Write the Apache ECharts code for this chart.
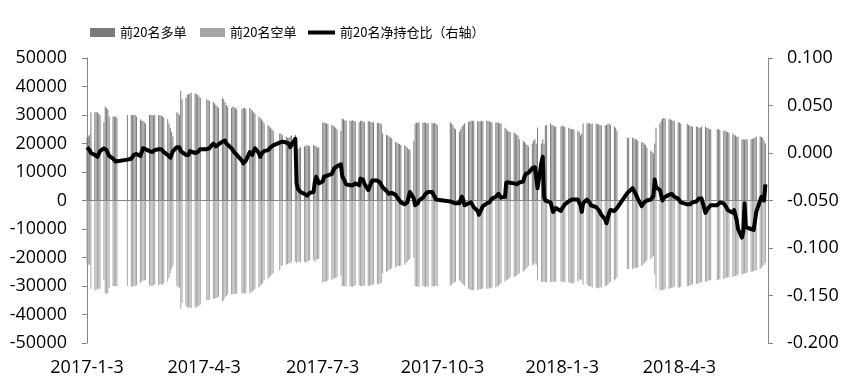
<!DOCTYPE html>
<html><head><meta charset="utf-8">
<script src="https://cdn.jsdelivr.net/npm/echarts@6/dist/echarts.min.js"></script>
<style>html,body{margin:0;padding:0;background:#fff}#c{width:851px;height:390px}</style>
</head><body><div id="c"></div>
<script>
// Trading calendar (categories): 2017-01-03 .. 2018-06-08, weekends and exchange holidays excluded
const startDate = '2017-01-03';
const endDate = '2018-06-08';
const axisEndDate = '2018-06-10';
const holidays = ['2017-01-27','2017-01-30','2017-01-31','2017-02-01','2017-02-02','2017-04-03','2017-04-04','2017-05-01','2017-05-29','2017-05-30','2017-10-02','2017-10-03','2017-10-04','2017-10-05','2017-10-06','2018-01-01','2018-02-15','2018-02-16','2018-02-19','2018-02-20','2018-02-21','2018-04-05','2018-04-06','2018-04-30','2018-05-01'];
const tickDates = ['2017-01-03','2017-04-03','2017-07-03','2017-10-03','2018-01-03','2018-04-03'];

// 前20名多单
const longValues = [
// 2017-01
22000,22500,23000,31000, 31000,31000,31000,30500,30000, 27500,33000,32500,32000,29500, 29500,29500,29500,29000,
// 2017-02
30000, 30000,30000,30000,30000,29500, 28500,28000,28000,27500,27000, 30000,30000,30000,29800,30000, 30000,29800,
// 2017-03
29800,29500,29000, 28500,27000,25500,24000,22500, 31000,30500,30000,38500,35500, 36000,37000,37500,37500,37800, 37500,37500,37000,36500,36000,
// 2017-04
35500,35200,35000, 34500,34000,33500,33000,32500, 36000,35500,34500,33500,33000, 32500,33000,32800,32500,32000,
// 2017-05
32000,32500,32500,32000, 32500,32000,31500,31000,30500, 29500,29000,28500,28000,27000, 26500,26000,25500,25000,24500, 23500,
// 2017-06
23500,23000, 22500,22000,22000,22500,22800, 23000,19000,18000,18500,18700, 19000,19000,19500,19300,19000, 19500,19300,19000,18500,18700,
// 2017-07
27300,27500,27200,27000,26800, 26500,26300,26000,25500,25000, 24500,28800,28500,28200,28000, 28000,28000,28200,28000,27800, 27500,
// 2017-08
28000,28000,27800,27500, 27800,27800,27500,27500,27500, 27300,27200,27000,26800,23500, 23000,22800,22500,22000,21800, 20500,20300,20000,19800,
// 2017-09
19500, 19300,19000,18500,18000,17800, 21000,27000,27300,27300,27500, 27300,27500,27300,27000,27200, 27300,27000,27200,27000,26500,
// 2017-10
27500,27000,26500,25500,25000, 24000,25000,26000,26500,27000, 27500,27800,28000,28000,28000, 27800,27800,
// 2017-11
27800,28000,27800, 28000,28000,27800,27500,27500, 27300,27500,27300,27000,27000, 25500,25000,24500,24200,24000, 23800,23500,23000,22800,
// 2017-12
21500, 21000,20500,20000,19500,19000, 20000,21000,21500,20000,25600, 20000,21500,20000,26300,26500, 27000,26500,26500,26000,26000,
// 2018-01
26000,26300,26000,25800, 25500,25300,25000,25000,25000, 24500,24000,22800,23500,27000, 27000,27300,27000,26800,27000, 27000,26800,26600,
// 2018-02
26500,26300, 26300,26500,26800,27000,26500, 26000,25500,24500, 22000,22000, 22000,21800,21500,
// 2018-03
21500,21000, 20500,20300,20000,19500,18500, 17500,17000,16500,20000,25500, 27000,28000,28800,29000,28800, 28500,28500,28200,28000,28000,
// 2018-04
27500,27300,27000, 26800,26500,26300,26000,26000, 26000,25800,25500,25500,26000, 26000,25500,25500,25000,25000,
// 2018-05
25000,25000,24800, 24500,24500,24200,24000,23800, 23500,23000,22800,22500,22300, 21500,21500,21300,21500,21500, 21500,21600,21800,22000,
// 2018-06
22500, 22500,22300,22000,21000,20000
];

// 前20名空单
const shortValues = [
// 2017-01
-22000,-22500,-22500,-31000, -31500,-31500,-31000,-31000,-31000, -28000,-32500,-32800,-32500,-30500, -30000,-30000,-30200,-30000,
// 2017-02
-30000, -30200,-30200,-30000,-30000,-29800, -29000,-28500,-28200,-28000,-28000, -29800,-30000,-30000,-29800,-29500, -29800,-29500,
// 2017-03
-29500,-29500,-29000, -28500,-27000,-25500,-24000,-23000, -30000,-30500,-30500,-38000,-36000, -37000,-37500,-37500,-37500,-37800, -37500,-37500,-37200,-37000,-36500,
// 2017-04
-35000,-35000,-34800, -34500,-34500,-34200,-34000,-33800, -35500,-35000,-34000,-33500,-33000, -33000,-33000,-32800,-32800,-32500,
// 2017-05
-32500,-32500,-32500,-32500, -32500,-32300,-32000,-31500,-31000, -30500,-30000,-29500,-29000,-28000, -27500,-27000,-26500,-26000,-25500, -24500,
// 2017-06
-23000,-22800, -22500,-22300,-22000,-22000,-21500, -21500,-22000,-21500,-21500,-21700, -21500,-21800,-21500,-21200,-21000, -20800,-21500,-21000,-20500,-20500,
// 2017-07
-28700,-28500,-28500,-28300,-28000, -27800,-27500,-27300,-27000,-26800, -26500,-30000,-30000,-30200,-30000, -30000,-30200,-30300,-30000,-29800, -29800,
// 2017-08
-30000,-30000,-30000,-29800, -30000,-29800,-29800,-29500,-29500, -29500,-29300,-29000,-29000,-25500, -25000,-24800,-24500,-24000,-23800, -23500,-23200,-23000,-23000,
// 2017-09
-22800, -22500,-22000,-21500,-21000,-20500, -20000,-30000,-30200,-30200,-30300, -30000,-30200,-30300,-30000,-30300, -30000,-30200,-30000,-30000,-30000,
// 2017-10
-30000,-29500,-29000,-28800,-28500, -28000,-28500,-29000,-29500,-30000, -31000,-31200,-31500,-31500,-31500, -31300,-31200,
// 2017-11
-31200,-31000,-31000, -31000,-31000,-30800,-30800,-30500, -30500,-30200,-30000,-29500,-29000, -28500,-28000,-27800,-27500,-27000, -26800,-26500,-26300,-26000,
// 2017-12
-25500, -25000,-24500,-24000,-23500,-23000, -22500,-22500,-22000,-22500,-28000, -28500,-28500,-28500,-28700,-28700, -28700,-28500,-28500,-28500,-28500,
// 2018-01
-28500,-28500,-28500,-28700, -28800,-28800,-29000,-29000,-29000, -28500,-28000,-27500,-28000,-29500, -29500,-30000,-30000,-30200,-30500, -30500,-30800,-30800,
// 2018-02
-30500,-30500, -30000,-29800,-29500,-29000,-28500, -28000,-27500,-27000, -24000,-24000, -24000,-23800,-23500,
// 2018-03
-23800,-23500, -23000,-22500,-22000,-21500,-21000, -20500,-20000,-19500,-26000,-31000, -31500,-31500,-31500,-31200,-31000, -31000,-30800,-30500,-30500,-30200,
// 2018-04
-30500,-30500,-30300, -30000,-30000,-29800,-29500,-29500, -29300,-29000,-29000,-28800,-28800, -28500,-28500,-28200,-28000,-28000,
// 2018-05
-28000,-27800,-27500, -27500,-27300,-27000,-27000,-26800, -26800,-26500,-26500,-26300,-26000, -26000,-25800,-25500,-25500,-25300, -25000,-25000,-24800,-24500,
// 2018-06
-24500, -24000,-23500,-23000,-22500,-21800
];

// 前20名净持仓比（右轴）
const netRatio = [
// 2017-01
0.006,0.004,0.003,0.000, -0.002,-0.003,-0.004,-0.001,0.002, 0.005,0.006,0.003,0.000,-0.003, -0.006,-0.008,-0.009,-0.008,
// 2017-02
-0.007, -0.006,-0.004,-0.002,0.000,-0.001, -0.003,-0.004,0.005,0.006,0.004, 0.002,0.002,0.001,0.002,0.003, 0.004,0.004,
// 2017-03
0.004,0.003,0.001, -0.002,-0.004,-0.005,-0.003,0.002, 0.006,0.008,0.006,0.002,0.000, -0.002,-0.004,-0.002,0.002,0.003, 0.000,0.002,0.001,0.003,0.004,
// 2017-04
0.004,0.004,0.005, 0.010,0.009,0.007,0.008,0.009, 0.012,0.014,0.013,0.010,0.008, 0.005,0.003,0.001,0.000,-0.002,
// 2017-05
-0.008,-0.011,-0.013,-0.008, 0.001,0.000,-0.002,0.002,0.005, 0.000,-0.004,-0.001,0.001,0.002, 0.003,0.004,0.006,0.007,0.008, 0.011,
// 2017-06
0.012,0.012, 0.011,0.012,0.010,0.006,0.008, 0.015,-0.032,-0.038,-0.040,-0.041, -0.043,-0.044,-0.045,-0.043,-0.042, -0.041,-0.030,-0.025,-0.028,-0.032,
// 2017-07
-0.030,-0.025,-0.023,-0.024,-0.025, -0.022,-0.020,-0.016,-0.015,-0.014, -0.012,-0.024,-0.027,-0.030,-0.033, -0.034,-0.035,-0.034,-0.033,-0.032, -0.034,
// 2017-08
-0.027,-0.026,-0.028,-0.032, -0.039,-0.036,-0.032,-0.029,-0.028, -0.029,-0.030,-0.031,-0.033,-0.036, -0.040,-0.042,-0.043,-0.043,-0.042, -0.044,-0.046,-0.048,-0.050,
// 2017-09
-0.052, -0.054,-0.056,-0.052,-0.046,-0.041, -0.048,-0.055,-0.054,-0.053,-0.050, -0.047,-0.045,-0.043,-0.042,-0.041, -0.041,-0.043,-0.046,-0.049,-0.050,
// 2017-10
-0.051,-0.051,-0.052,-0.052,-0.053, -0.053,-0.049,-0.046,-0.050,-0.055, -0.053,-0.052,-0.052,-0.054,-0.057, -0.061,-0.065,
// 2017-11
-0.063,-0.059,-0.056, -0.053,-0.051,-0.052,-0.050,-0.048, -0.046,-0.044,-0.043,-0.045,-0.047, -0.046,-0.031,-0.030,-0.031,-0.032, -0.032,-0.034,-0.033,-0.031,
// 2017-12
-0.031, -0.030,-0.025,-0.022,-0.020,-0.021, -0.016,-0.014,-0.015,-0.016,-0.037, -0.010,-0.004,-0.046,-0.050,-0.051, -0.052,-0.057,-0.062,-0.060,-0.058,
// 2018-01
-0.061,-0.058,-0.056,-0.054, -0.051,-0.050,-0.049,-0.050,-0.049, -0.049,-0.050,-0.055,-0.062,-0.053, -0.049,-0.050,-0.052,-0.055,-0.057, -0.057,-0.059,-0.060,
// 2018-02
-0.062,-0.065, -0.070,-0.074,-0.068,-0.063,-0.060, -0.061,-0.062,-0.058, -0.042,-0.040, -0.037,-0.038,-0.042,
// 2018-03
-0.044,-0.048, -0.056,-0.055,-0.052,-0.051,-0.050, -0.049,-0.047,-0.045,-0.028,-0.036, -0.039,-0.040,-0.050,-0.047,-0.045, -0.044,-0.043,-0.043,-0.045,-0.046,
// 2018-04
-0.048,-0.050,-0.052, -0.054,-0.055,-0.054,-0.053,-0.052, -0.051,-0.050,-0.048,-0.046,-0.048, -0.063,-0.062,-0.058,-0.056,-0.055,
// 2018-05
-0.055,-0.053,-0.052, -0.053,-0.055,-0.057,-0.060,-0.058, -0.063,-0.060,-0.062,-0.071,-0.080, -0.089,-0.083,-0.053,-0.078,-0.079, -0.080,-0.080,-0.081,-0.080,
// 2018-06
-0.062, -0.050,-0.046,-0.048,-0.050,-0.033
];

const DAY = 86400000;
function parseDay(s){ const p = s.split('-').map(Number); return Date.UTC(p[0], p[1]-1, p[2]); }
function fmt(n){ return n < 10 ? '0' + n : '' + n; }
const t0 = parseDay(startDate);
function dayIndex(s){ return Math.round((parseDay(s) - t0) / DAY); }
const holidaySet = new Set(holidays);
const tradingDays = []; // day offsets from startDate
for (let t = t0; t <= parseDay(endDate); t += DAY) {
  const d = new Date(t);
  const wd = d.getUTCDay();
  const key = d.getUTCFullYear() + '-' + fmt(d.getUTCMonth() + 1) + '-' + fmt(d.getUTCDate());
  if (wd === 0 || wd === 6 || holidaySet.has(key)) continue;
  tradingDays.push(Math.round((t - t0) / DAY));
}
if (tradingDays.length !== longValues.length || tradingDays.length !== shortValues.length || tradingDays.length !== netRatio.length) {
  console.error('length mismatch', tradingDays.length, longValues.length, shortValues.length, netRatio.length);
}
function dayLabel(v){ const d = new Date(t0 + v * DAY); return d.getUTCFullYear() + '-' + (d.getUTCMonth() + 1) + '-' + d.getUTCDate(); }

const axisColor = '#868686';
const labelFont = { fontFamily: 'Open Sans', fontSize: 18, color: '#000' };
const chart = echarts.init(document.getElementById('c'), null, { renderer: 'canvas' });

function legendAt(left, name, w, h) {
  return { left: left, top: 21, itemWidth: w, itemHeight: h, itemGap: 0, icon: 'rect', data: [name],
    textStyle: { fontFamily: 'Noto Sans CJK SC', fontSize: 13, color: '#000' }, selectedMode: false };
}

chart.setOption({
  animation: false,
  backgroundColor: '#fff',
  legend: [
    legendAt(85, '前20名多单', 25, 9),
    legendAt(195, '前20名空单', 25, 9),
    legendAt(303, '前20名净持仓比（右轴）', 27, 4)
  ],
  grid: { left: 87, right: 83, top: 58, bottom: 47 },
  xAxis: {
    type: 'value',
    min: 0,
    max: dayIndex(axisEndDate),
    axisLine: { show: false },
    axisTick: { show: false },
    splitLine: { show: false },
    axisLabel: Object.assign({}, labelFont, {
      margin: 16,
      customValues: tickDates.map(dayIndex),
      hideOverlap: false,
      formatter: dayLabel
    })
  },
  yAxis: [
    { type: 'value', min: -50000, max: 50000, interval: 10000,
      axisLine: { show: true, lineStyle: { color: axisColor } },
      axisTick: { show: true, length: 5, lineStyle: { color: axisColor } },
      splitLine: { show: false },
      axisLabel: Object.assign({}, labelFont, { margin: 20, formatter: function (v) { return String(v); } }) },
    { type: 'value', min: -0.2, max: 0.1, interval: 0.05, position: 'right',
      axisLine: { show: true, lineStyle: { color: axisColor } },
      axisTick: { show: true, length: 5, lineStyle: { color: axisColor } },
      splitLine: { show: false },
      axisLabel: Object.assign({}, labelFont, { margin: 19, formatter: function (v) { return v.toFixed(3); } }) }
  ],
  series: [
    { name: '前20名多单', type: 'bar', barWidth: 1, barGap: '-100%',
      itemStyle: { color: '#7b7b7b' },
      data: tradingDays.map((d, i) => [d, longValues[i]]),
      markLine: { silent: true, symbol: 'none', label: { show: false },
        lineStyle: { color: axisColor, type: 'solid', width: 1 }, data: [{ yAxis: 0 }] } },
    { name: '前20名空单', type: 'bar', barWidth: 1, barGap: '-100%',
      itemStyle: { color: '#a5a5a5' },
      data: tradingDays.map((d, i) => [d, shortValues[i]]) },
    { name: '前20名净持仓比（右轴）', type: 'line', yAxisIndex: 1, showSymbol: false, z: 5,
      lineStyle: { color: '#000', width: 4, join: 'round' }, itemStyle: { color: '#000' },
      data: tradingDays.map((d, i) => [d, netRatio[i]]) }
  ]
});
</script></body></html>
